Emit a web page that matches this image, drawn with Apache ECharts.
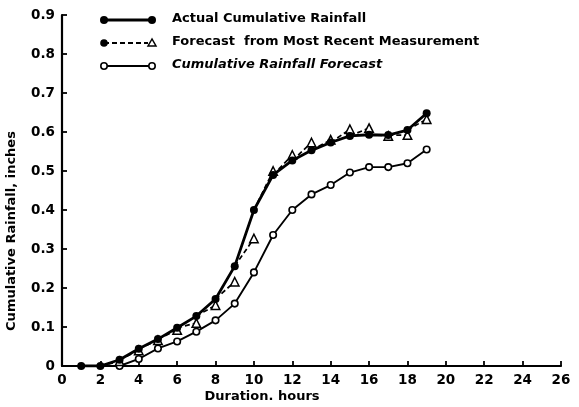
<!DOCTYPE html>
<html>
<head>
<meta charset="utf-8">
<script src="https://cdn.jsdelivr.net/npm/echarts@6/dist/echarts.min.js"></script>
<style>html,body{margin:0;padding:0;background:#fff}#c{width:579px;height:407px}</style>
</head>
<body>
<div id="c"></div>
<script>
// Data
var hours = [1,2,3,4,5,6,7,8,9,10,11,12,13,14,15,16,17,18,19];
var actual = [0,0,0.016,0.044,0.069,0.098,0.128,0.172,0.256,0.40,0.49,0.527,0.553,0.573,0.59,0.593,0.592,0.605,0.648];
var forecastHours = [3,4,5,6,7,8,9,10,11,12,13,14,15,16,17,18,19];
var forecastRecent = [0.012,0.04,0.066,0.092,0.11,0.156,0.216,0.327,0.50,0.541,0.573,0.58,0.607,0.61,0.59,0.592,0.633];
var cumHours = [3,4,5,6,7,8,9,10,11,12,13,14,15,16,17,18,19];
var cumForecast = [0,0.018,0.045,0.063,0.088,0.117,0.16,0.24,0.336,0.40,0.44,0.464,0.496,0.51,0.51,0.52,0.555];
var legendLabels = ['Actual Cumulative Rainfall','Forecast  from Most Recent Measurement','Cumulative Rainfall Forecast'];
var yTicks = {min:0, max:0.9, interval:0.1};
var xTicks = {min:0, max:26, interval:2};

var FONT = 'DejaVu Sans';
var actualMap = {};
hours.forEach(function(h,i){actualMap[h]=actual[i];});

var dashedData = [];
forecastHours.forEach(function(h,i){
  dashedData.push({value:[h-1, actualMap[h-1]], symbol:'none'});
  dashedData.push({value:[h, forecastRecent[i]]});
  dashedData.push([h, null]);
});

var chart = echarts.init(document.getElementById('c'), null, {renderer:'canvas'});
var lg = [];
var rows = [20, 43, 66];
// legend row 1
lg.push({type:'line', shape:{x1:104,y1:rows[0],x2:152,y2:rows[0]}, style:{stroke:'#000',lineWidth:2.8}});
lg.push({type:'circle', shape:{cx:104,cy:rows[0],r:4}, style:{fill:'#000'}});
lg.push({type:'circle', shape:{cx:152,cy:rows[0],r:4}, style:{fill:'#000'}});
// legend row 2
lg.push({type:'line', shape:{x1:104,y1:rows[1],x2:148,y2:rows[1]}, style:{stroke:'#000',lineWidth:1.8,lineDash:[5,3]}});
lg.push({type:'circle', shape:{cx:104,cy:rows[1],r:3.8}, style:{fill:'#000'}});
lg.push({type:'polygon', shape:{points:[[152,rows[1]-4],[148,rows[1]+3],[156,rows[1]+3]]}, style:{fill:'#fff',stroke:'#000',lineWidth:1.5}});
// legend row 3
lg.push({type:'line', shape:{x1:104,y1:rows[2],x2:152,y2:rows[2]}, style:{stroke:'#000',lineWidth:1.9}});
lg.push({type:'circle', shape:{cx:104,cy:rows[2],r:3.2}, style:{fill:'#fff',stroke:'#000',lineWidth:1.6}, z:10});
lg.push({type:'circle', shape:{cx:152,cy:rows[2],r:3.2}, style:{fill:'#fff',stroke:'#000',lineWidth:1.6}, z:10});
legendLabels.forEach(function(t,i){
  lg.push({type:'text', left:172, top:rows[i]-8, style:{text:t, fill:'#000', font:(i===2?'italic ':'')+'bold 13px "'+FONT+'"'}});
});
lg.push({type:'text', x:12, y:231, rotation:Math.PI/2, style:{text:'Cumulative Rainfall, inches', fill:'#000', font:'bold 13px "'+FONT+'"', align:'center', verticalAlign:'middle'}});
lg.push({type:'text', x:262, y:397, style:{text:'Duration. hours', fill:'#000', font:'bold 13px "'+FONT+'"', align:'center', verticalAlign:'middle'}});

chart.setOption({
  animation:false,
  backgroundColor:'#fff',
  grid:{left:62, right:18, top:15, bottom:41},
  xAxis:{type:'value', min:xTicks.min, max:xTicks.max, interval:xTicks.interval,
    axisLine:{lineStyle:{color:'#000',width:2.2}},
    axisTick:{inside:true,length:5,lineStyle:{color:'#000',width:1.8}},
    splitLine:{show:false},
    axisLabel:{color:'#000', fontFamily:FONT, fontWeight:'bold', fontSize:13.5, margin:7}},
  yAxis:{type:'value', min:yTicks.min, max:yTicks.max, interval:yTicks.interval,
    axisLine:{show:true,lineStyle:{color:'#000',width:2.2}},
    axisTick:{show:true,inside:true,length:5,lineStyle:{color:'#000',width:1.8}},
    splitLine:{show:false},
    axisLabel:{color:'#000', fontFamily:FONT, fontWeight:'bold', fontSize:13.5, margin:7,
      formatter:function(v){return v===0?'0':v.toFixed(1);}}},
  graphic:lg,
  series:[
    {type:'line', name:'cum', data:cumHours.map(function(h,i){return [h,cumForecast[i]];}),
      symbol:'circle', symbolSize:6.5, itemStyle:{color:'#fff',borderColor:'#000',borderWidth:1.6},
      lineStyle:{color:'#000',width:1.9}, z:2},
    {type:'line', name:'fc', data:dashedData, connectNulls:false,
      symbol:'triangle', symbolSize:8.5, itemStyle:{color:'#fff',borderColor:'#000',borderWidth:1.5},
      lineStyle:{color:'#000',width:1.7,type:[5,3]}, z:3},
    {type:'line', name:'actual', data:hours.map(function(h,i){return [h,actual[i]];}),
      symbol:'circle', symbolSize:8, itemStyle:{color:'#000'},
      lineStyle:{color:'#000',width:2.8}, z:4}
  ]
});
</script>
</body>
</html>
